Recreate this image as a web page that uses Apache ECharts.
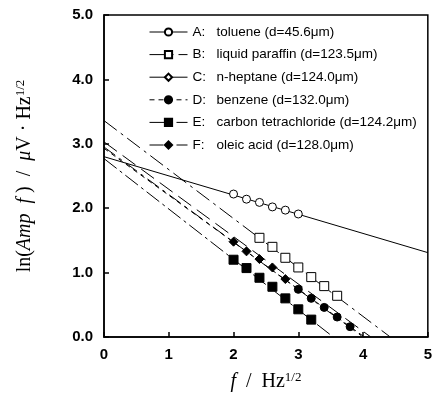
<!DOCTYPE html>
<html>
<head>
<meta charset="utf-8">
<script src="https://cdn.jsdelivr.net/npm/echarts@6/dist/echarts.min.js"></script>
<style>html,body{margin:0;padding:0;background:#fff}#c{width:435px;height:397px}</style>
</head>
<body>
<div id="c"></div>
<script>
// Legend labels
const letters = ['A:', 'B:', 'C:', 'D:', 'E:', 'F:'];
const liquids = ['toluene (d=45.6\u03bcm)', 'liquid paraffin (d=123.5\u03bcm)', 'n-heptane (d=124.0\u03bcm)',
  'benzene (d=132.0\u03bcm)', 'carbon tetrachloride (d=124.2\u03bcm)', 'oleic acid (d=128.0\u03bcm)'];

// Measured points [f^(1/2), ln(Amp f)]
const pointsA = [[2.0, 2.22], [2.2, 2.14], [2.4, 2.09], [2.6, 2.02], [2.8, 1.97], [3.0, 1.91]];
const pointsB = [[2.4, 1.54], [2.6, 1.40], [2.8, 1.23], [3.0, 1.08], [3.2, 0.93], [3.4, 0.79], [3.6, 0.64]];
const pointsC = [];
const pointsD = [[3.0, 0.74], [3.2, 0.60], [3.4, 0.46], [3.6, 0.31], [3.8, 0.16]];
const pointsE = [[2.0, 1.20], [2.2, 1.07], [2.4, 0.92], [2.6, 0.78], [2.8, 0.60], [3.0, 0.43], [3.2, 0.27]];
const pointsF = [[2.0, 1.48], [2.2, 1.33], [2.4, 1.21], [2.6, 1.08], [2.8, 0.90]];

// Fitted lines (end points)
const lineA = [[0, 2.80], [5, 1.31]];
const lineB = [[0, 3.36], [4.42, 0]];
const lineC = [[0, 3.03], [4.12, 0]];
const lineD = [[0, 2.93], [4.02, 0]];
const lineE = [[0, 2.77], [3.54, 0]];
const lineF = [[0, 2.95], [4.0, 0]];

// Axis ticks
const xTicks = [0, 1, 2, 3, 4, 5];
const yTicks = [0, 1, 2, 3, 4, 5];

const names = letters.map((l, i) => l + '|' + liquids[i]);
const points = [pointsA, pointsB, pointsC, pointsD, pointsE, pointsF];
const lines = [lineA, lineB, lineC, lineD, lineE, lineF];
const dashes = ['solid', [16, 5, 3, 5], [16, 7], [5, 4], [16, 4, 3, 4], [14, 5, 3, 5]];
const symbols = ['circle', 'rect', 'diamond', 'circle', 'rect', 'diamond'];
const fills = ['#fff', '#fff', '#fff', '#000', '#000', '#000'];
const sizes = [8, 9, 8, 8, 9, 9];

const series = [];
lines.forEach((ln, i) => {
  series.push({
    name: 'fit' + i, type: 'line', data: ln, showSymbol: false, silent: true, z: 1,
    lineStyle: { color: '#000', width: 1, type: dashes[i] }, animation: false
  });
});
points.forEach((p, i) => {
  series.push({
    name: names[i], type: 'line', data: p, symbol: symbols[i], symbolSize: sizes[i],
    showAllSymbol: true, z: 3, animation: false,
    lineStyle: { opacity: 0, color: '#000', type: dashes[i] },
    itemStyle: { color: fills[i], borderColor: '#000', borderWidth: 1, opacity: 1 }
  });
});

const chart = echarts.init(document.getElementById('c'));
chart.setOption({
  animation: false,
  grid: { left: 104, top: 15, width: 327, height: 325, show: true, borderColor: '#000', borderWidth: 1.5 },
  legend: {
    orient: 'vertical', left: 144, top: 20, itemWidth: 38, itemHeight: 9, itemGap: 8.6,
    data: names.map((n, i) => ({ name: n, lineStyle: { opacity: 1, color: '#000', width: 1, type: dashes[i] } })),
    formatter: (n) => {
      const parts = n.split('|');
      return '{l|' + parts[0] + '}{t|' + parts[1] + '}';
    },
    textStyle: {
      fontFamily: 'Liberation Sans, Arial, sans-serif', fontSize: 13.5, color: '#000',
      rich: { l: { width: 24, fontSize: 13.5, fontFamily: 'Liberation Sans, Arial, sans-serif', color: '#000' },
              t: { fontSize: 13.5, fontFamily: 'Liberation Sans, Arial, sans-serif', color: '#000' } }
    },
    selectedMode: false
  },
  xAxis: {
    type: 'value', min: xTicks[0], max: xTicks[xTicks.length - 1], interval: 1,
    axisLine: { lineStyle: { color: '#000', width: 1.5 } },
    axisTick: { inside: true, length: 5, lineStyle: { color: '#000', width: 1.5 } },
    splitLine: { show: false },
    axisLabel: { color: '#000', fontWeight: 'bold', fontSize: 15, fontFamily: 'Liberation Sans, Arial, sans-serif', margin: 10 },
    name: '{i|f}{n|  /  Hz}{s|1/2}', nameLocation: 'middle', nameGap: 34,
    nameTextStyle: {
      rich: {
        i: { fontFamily: 'Liberation Serif, serif', fontStyle: 'italic', fontSize: 20, color: '#000', lineHeight: 22 },
        n: { fontFamily: 'Liberation Serif, serif', fontSize: 20, color: '#000', lineHeight: 22 },
        s: { fontFamily: 'Liberation Serif, serif', fontSize: 13, color: '#000', verticalAlign: 'top', lineHeight: 14 }
      }
    }
  },
  yAxis: {
    type: 'value', min: yTicks[0], max: yTicks[yTicks.length - 1], interval: 1,
    axisLine: { lineStyle: { color: '#000', width: 1.5 } },
    axisTick: { inside: true, length: 5, lineStyle: { color: '#000', width: 1.5 } },
    splitLine: { show: false },
    axisLabel: { color: '#000', fontWeight: 'bold', fontSize: 15, fontFamily: 'Liberation Sans, Arial, sans-serif', margin: 11,
      formatter: (v) => v.toFixed(1) },
    name: '{n|ln(}{i|Amp  f}{n| )  /  }{i|\u03bc}{n|V \u00b7 Hz}{s|1/2}', nameLocation: 'middle', nameGap: 68, nameRotate: 90,
    nameTextStyle: {
      rich: {
        i: { fontFamily: 'Liberation Serif, serif', fontStyle: 'italic', fontSize: 20, color: '#000', lineHeight: 22 },
        n: { fontFamily: 'Liberation Serif, serif', fontSize: 20, color: '#000', lineHeight: 22 },
        s: { fontFamily: 'Liberation Serif, serif', fontSize: 13, color: '#000', verticalAlign: 'top', lineHeight: 14 }
      }
    }
  },
  series: series
});
</script>
</body>
</html>
